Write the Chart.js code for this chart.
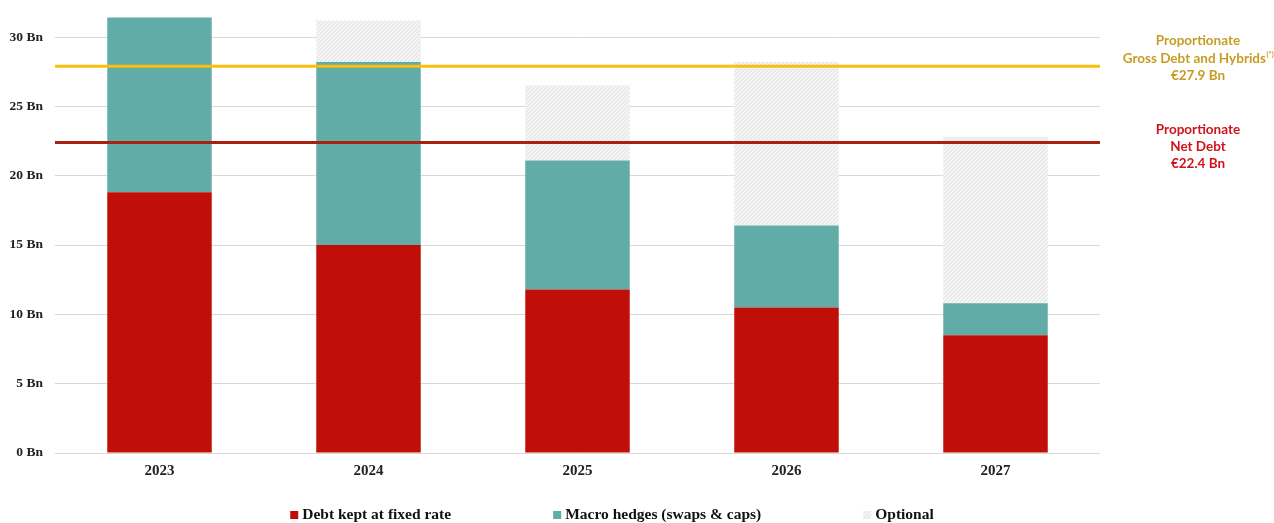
<!DOCTYPE html>
<html>
<head>
<meta charset="utf-8">
<script src="https://cdn.jsdelivr.net/npm/chart.js@4.4.1/dist/chart.umd.min.js"></script>
<style>
  body { margin: 0; background: #fff; }
  #wrap { width: 1274px; height: 523px; position: relative; }
</style>
</head>
<body>
<div id="wrap"><canvas id="graph"></canvas></div>
<script>
// data (Bn EUR)
const years = ['2023', '2024', '2025', '2026', '2027'];
const fixedRate = [18.8, 15.0, 11.8, 10.5, 8.5];
const macroHedges = [12.6, 13.2, 9.3, 5.9, 2.3];
const optional = [0, 3.0, 5.4, 11.8, 12.0];
const yTicks = [0, 5, 10, 15, 20, 25, 30];

const grossDebt = 27.9;
const netDebt = 22.4;
const grossText = ['Proportionate', 'Gross Debt and Hybrids', '€27.9 Bn'];
const netText = ['Proportionate', 'Net Debt', '€22.4 Bn'];

// hatch fill for the "Optional" part
function makeHatch() {
    const c = document.createElement('canvas');
    c.width = 4;
    c.height = 4;
    const x = c.getContext('2d');
    x.fillStyle = '#e8e8e8';
    x.fillRect(0, 0, 4, 4);
    x.strokeStyle = '#fbfbfb';
    x.lineWidth = 1.1;
    x.beginPath();
    x.moveTo(0, 4); x.lineTo(4, 0);
    x.moveTo(-2, 2); x.lineTo(2, -2);
    x.moveTo(2, 6); x.lineTo(6, 2);
    x.stroke();
    return x.createPattern(c, 'repeat');
}
const hatch = makeHatch();

Chart.defaults.font.family = "'Liberation Serif', 'Times New Roman', serif";
Chart.defaults.font.weight = 'bold';
Chart.defaults.color = '#222';

// right-hand notes next to the two reference lines
const noteFont = "Lato, 'Open Sans', sans-serif";
const notesPlugin = {
    id: 'notes',
    afterDatasetsDraw(chart) {
        const ctx = chart.ctx;
        const y = chart.scales.y;
        const cx = chart.chartArea.right + 98;
        ctx.save();
        ctx.textBaseline = 'middle';
        ctx.font = 'bold 13.5px ' + noteFont;

        // gross debt
        let base = y.getPixelForValue(grossDebt);
        ctx.fillStyle = '#c69d22';
        ctx.textAlign = 'center';
        ctx.fillText(grossText[0], cx, base - 25);
        ctx.fillText(grossText[2], cx, base + 10);
        const w1 = ctx.measureText(grossText[1]).width;
        ctx.font = 'bold 7.5px ' + noteFont;
        const w2 = ctx.measureText('(*)').width;
        const sx = cx - (w1 + w2) / 2;
        ctx.textAlign = 'left';
        ctx.fillText('(*)', sx + w1 + 0.5, base - 12);
        ctx.font = 'bold 13.5px ' + noteFont;
        ctx.fillText(grossText[1], sx, base - 7);

        // net debt
        base = y.getPixelForValue(netDebt);
        ctx.fillStyle = '#d0121b';
        ctx.textAlign = 'center';
        ctx.fillText(netText[0], cx, base - 13);
        ctx.fillText(netText[1], cx, base + 4);
        ctx.fillText(netText[2], cx, base + 21);
        ctx.restore();
    }
};

// legend row along the bottom, wide gaps like the original slide
const legendRow = {
    id: 'legendRow',
    afterDraw(chart) {
        const ctx = chart.ctx;
        const sets = chart.data.datasets.slice(0, 3);
        const gap = 102;
        const box = 8;
        ctx.save();
        ctx.font = "bold 15.5px 'Liberation Serif', 'Times New Roman', serif";
        ctx.textBaseline = 'middle';
        ctx.textAlign = 'left';
        const widths = sets.map(ds => box + 4 + ctx.measureText(ds.label).width);
        const total = widths.reduce((a, b) => a + b, 0) + gap * (sets.length - 1);
        let x = (chart.width - 50) / 2 - total / 2;
        const yc = chart.height - 8;
        sets.forEach((ds, i) => {
            ctx.fillStyle = ds.backgroundColor;
            ctx.fillRect(x, yc - 4, box, box);
            ctx.fillStyle = '#111';
            ctx.fillText(ds.label, x + box + 4, yc);
            x += widths[i] + gap;
        });
        ctx.restore();
    }
};

const noPad = (axis) => {
    axis.paddingTop = 0;
    axis.paddingBottom = 0;
};

const barCommon = {
    type: 'bar',
    barPercentage: 1,
    categoryPercentage: 0.5,
    grouped: false,
    stack: 'debt',
    order: 1,
};

const ctx = document.getElementById('graph').getContext('2d');
const dataChart = new Chart(ctx, {
    data: {
        labels: years,
        datasets: [
            Object.assign({}, barCommon, {
                label: 'Debt kept at fixed rate',
                data: fixedRate,
                backgroundColor: '#c00f08',
            }),
            Object.assign({}, barCommon, {
                label: 'Macro hedges (swaps & caps)',
                data: macroHedges,
                backgroundColor: '#62aca8',
            }),
            Object.assign({}, barCommon, {
                label: 'Optional',
                data: optional,
                backgroundColor: hatch,
            }),
            {
                type: 'line',
                label: 'Proportionate Gross Debt and Hybrids',
                xAxisID: 'x2',
                stack: 'gross',
                data: [{ x: 0, y: grossDebt }, { x: 1, y: grossDebt }],
                borderColor: '#fbbf0e',
                borderWidth: 3,
                pointRadius: 0,
                order: 0,
            },
            {
                type: 'line',
                label: 'Proportionate Net Debt',
                xAxisID: 'x2',
                stack: 'net',
                data: [{ x: 0, y: netDebt }, { x: 1, y: netDebt }],
                borderColor: '#a82211',
                borderWidth: 3,
                pointRadius: 0,
                order: 0,
            },
        ],
    },
    options: {
        responsive: true,
        maintainAspectRatio: false,
        animation: false,
        layout: { padding: { top: 0, right: 50, left: 0, bottom: 42 } },
        scales: {
            x: {
                stacked: true,
                grid: { display: false },
                border: { display: false },
                ticks: { font: { size: 15 }, color: '#222', padding: 1 },
            },
            x2: {
                type: 'linear',
                display: false,
                min: 0,
                max: 1,
            },
            y: {
                stacked: true,
                min: 0,
                max: 32.67,
                grid: { color: '#d9d9d9', drawTicks: false },
                border: { display: false },
                ticks: {
                    font: { size: 13.5 },
                    color: '#222',
                    padding: 12,
                    callback: (v) => v + ' Bn',
                },
                afterBuildTicks: (axis) => {
                    axis.ticks = yTicks.map(v => ({ value: v }));
                },
                afterFit: (axis) => {
                    axis.width = 55;
                    noPad(axis);
                },
            },
            y2: {
                type: 'linear',
                position: 'right',
                grid: { display: false },
                border: { display: false },
                ticks: { display: false },
                afterFit: (axis) => {
                    axis.width = 124;
                    noPad(axis);
                },
            },
        },
        plugins: {
            tooltip: { enabled: false },
            legend: { display: false },
        },
    },
    plugins: [notesPlugin, legendRow],
});
</script>
</body>
</html>
